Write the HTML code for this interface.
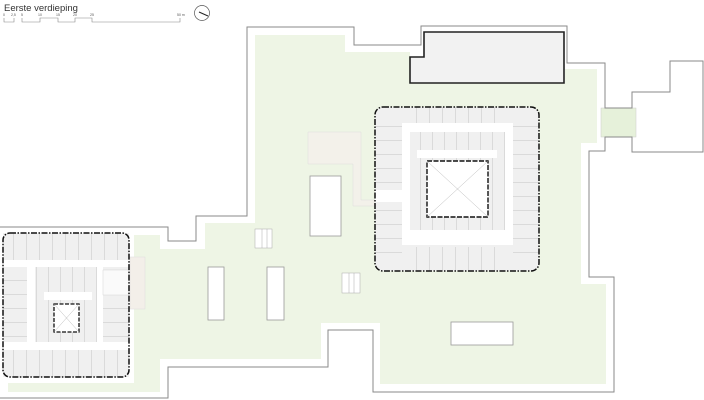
<!DOCTYPE html>
<html><head><meta charset="utf-8"><style>
html,body{margin:0;padding:0;background:#fff;}
svg{display:block;}
</style></head><body>
<svg width="704" height="400" viewBox="0 0 704 400" xmlns="http://www.w3.org/2000/svg" font-family="Liberation Sans, sans-serif">
<defs>
<pattern id="vl" width="13" height="400" patternUnits="userSpaceOnUse"><rect width="13" height="400" fill="#f0f0f0"/><line x1="0.5" y1="0" x2="0.5" y2="400" stroke="#c4c4c4" stroke-width="0.5"/></pattern>
<pattern id="hl" width="400" height="14" patternUnits="userSpaceOnUse"><rect width="400" height="14" fill="#f0f0f0"/><line x1="0" y1="0.5" x2="400" y2="0.5" stroke="#c4c4c4" stroke-width="0.5"/></pattern>
<pattern id="vs" width="12" height="400" patternUnits="userSpaceOnUse"><rect width="12" height="400" fill="#f0f0f0"/><line x1="0.5" y1="0" x2="0.5" y2="400" stroke="#c4c4c4" stroke-width="0.5"/></pattern>
</defs>

<text x="4" y="11" font-size="9.5" fill="#333">Eerste verdieping</text>
<g stroke="#888" stroke-width="0.6" fill="none">
<path d="M4,18 V22 H14 V18 M22,18 V22 H40 V18 H58 V22 H75 V18 H92 V22 H180 V18"/>
</g>
<g font-size="3.5" fill="#555">
<text x="3" y="16">0</text><text x="11" y="16">2,5</text><text x="21" y="16">5</text><text x="38" y="16">10</text><text x="56" y="16">15</text><text x="73" y="16">20</text><text x="90" y="16">25</text><text x="177" y="16">50 m</text>
</g>
<circle cx="202" cy="13" r="7.5" fill="none" stroke="#555" stroke-width="0.7"/>
<line x1="199" y1="12" x2="208" y2="16" stroke="#222" stroke-width="1"/>

<path d="M255,35 H345 V52 H410 V83 H565 V69 H597 V143 H581 V284 H606 V384 H380 V323 H321 V359 H160 V392 H8 V383 H134 V235 H160 V249 H205 V223 H255 Z" fill="#eef5e5"/>
<rect x="601" y="108" width="35" height="29" fill="#e6f1da" stroke="#ccc" stroke-width="0.5"/>

<path d="M0,227 H168 V241 H196 V216 H247 V27 H354 V45 H421 V26 H567 V63 H605 V108 H632 V92 H670 V61 H703 V152 H632 V137 H605 V151 H589 V277 H614 V392 H373 V330 H328 V367 H168 V398 H0" fill="none" stroke="#8a8a8a" stroke-width="1"/>

<path d="M308,132 H361 V200 H375 V206 H353 V164 H308 Z" fill="#f3f1ea" stroke="#ddd" stroke-width="0.5"/>
<rect x="130" y="257" width="15" height="52" fill="#f3efe9" stroke="#ddd" stroke-width="0.5"/>

<g fill="#fff" stroke="#999" stroke-width="0.8">
<rect x="310" y="176" width="31" height="60"/>
<rect x="208" y="267" width="16" height="53"/>
<rect x="267" y="267" width="17" height="53"/>
<rect x="451" y="322" width="62" height="23"/>
</g>
<g fill="#fff" stroke="#aaa" stroke-width="0.5">
<rect x="255" y="229" width="17" height="19"/><line x1="262" y1="229" x2="262" y2="248"/><line x1="267" y1="229" x2="267" y2="248"/>
<rect x="342" y="273" width="18" height="20"/><line x1="349" y1="273" x2="349" y2="293"/><line x1="354" y1="273" x2="354" y2="293"/>
</g>

<path d="M424,32 H564 V83 H410 V57 H424 Z" fill="#f2f2f2" stroke="#222" stroke-width="1.6"/>

<rect x="375" y="107" width="164" height="164" rx="8" fill="#f0f0f0"/>
<rect x="410" y="107" width="95" height="16" fill="url(#vl)"/>
<rect x="410" y="247" width="95" height="24" fill="url(#vl)"/>
<rect x="375" y="115" width="27" height="150" fill="url(#hl)"/>
<rect x="513" y="115" width="26" height="150" fill="url(#hl)"/>
<path d="M402,123 H513 V245 H402 Z M410,132 V230 H505 V132 Z" fill="#fff" fill-rule="evenodd"/>
<rect x="375" y="190" width="27" height="12" fill="#fff"/>
<rect x="505" y="160" width="8" height="12" fill="#fff"/>
<rect x="410" y="132" width="95" height="98" fill="url(#vs)"/>
<rect x="417" y="150" width="80" height="8" fill="#fff"/>
<rect x="427" y="161" width="61" height="56" fill="#fff" stroke="#111" stroke-width="1.4" stroke-dasharray="5,1.5"/>
<path d="M427,161 L488,217 M488,161 L427,217" stroke="#bbb" stroke-width="0.5"/>
<rect x="375" y="107" width="164" height="164" rx="8" fill="none" stroke="#111" stroke-width="1.5" stroke-dasharray="6,1.5,1.5,1.5"/>

<rect x="3" y="233" width="126" height="144" rx="7" fill="#f0f0f0"/>
<rect x="3" y="233" width="126" height="27" fill="url(#vl)"/>
<rect x="3" y="350" width="126" height="27" fill="url(#vl)"/>
<rect x="3" y="267" width="24" height="75" fill="url(#hl)"/>
<rect x="103" y="267" width="26" height="75" fill="url(#hl)"/>
<path d="M3,260 H129 V267 H3 Z M27,267 H35 V342 H27 Z M97,267 H103 V342 H97 Z M3,342 H129 V350 H3 Z" fill="#fff"/>
<rect x="103" y="270" width="26" height="25" fill="#fafafa" stroke="#ccc" stroke-width="0.4"/>
<rect x="35" y="267" width="62" height="75" fill="url(#vs)"/>
<rect x="44" y="292" width="48" height="8" fill="#fff"/>
<rect x="54" y="304" width="25" height="28" fill="#fff" stroke="#111" stroke-width="1.3" stroke-dasharray="4,1.5"/>
<path d="M54,304 L79,332 M79,304 L54,332" stroke="#bbb" stroke-width="0.5"/>
<rect x="3" y="233" width="126" height="144" rx="7" fill="none" stroke="#111" stroke-width="1.5" stroke-dasharray="6,1.5,1.5,1.5"/>
</svg>
</body></html>
